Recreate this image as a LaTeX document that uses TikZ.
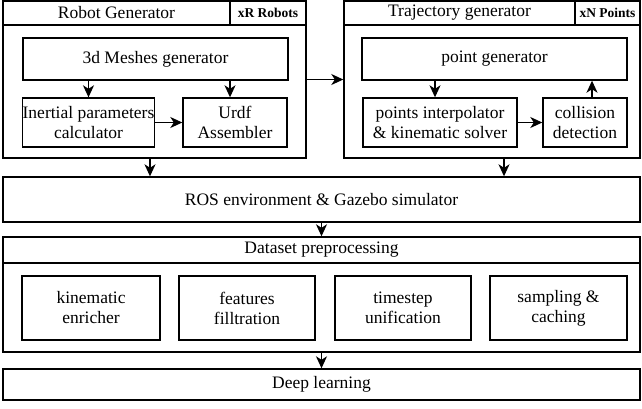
\documentclass[tikz,border=0pt]{standalone}
\usepackage{fontspec}
\setmainfont{Liberation Serif}
\usetikzlibrary{arrows.meta}

\begin{document}
\begin{tikzpicture}[x=1pt, y=-1pt,
    box/.style={draw, line width=1.4pt, inner sep=0pt, align=center,
                font=\rmfamily\fontsize{17.5}{20}\selectfont},
    tag/.style={draw, line width=1.4pt, inner sep=0pt,
                font=\rmfamily\fontsize{13.5}{15}\selectfont\bfseries},
    arrow/.style={-{Stealth[length=12pt, width=11pt, inset=3.5pt]}, line width=1.3pt}
]
\useasboundingbox (0,0) rectangle (642,408);

\node[box, minimum width=303, minimum height=157] (robot) at (154.5,79.5) {};
\node[box, minimum width=227, minimum height=24] (rtitle) at (116.5,13) {Robot Generator};
\node[tag, minimum width=76, minimum height=24] (rtag) at (268,13) {xR Robots};
\node[box, minimum width=265, minimum height=42] (mesh) at (155.5,59) {3d Meshes generator};
\node[box, minimum width=131, minimum height=49] (inertial) at (88.5,122.5) {Inertial parameters\\calculator};
\node[box, minimum width=104, minimum height=49] (urdf) at (235,122.5) {Urdf\\Assembler};

\node[box, minimum width=296, minimum height=157] (traj) at (492,79.5) {};
\node[box, minimum width=231, minimum height=24] (ttitle) at (459.5,13) {Trajectory generator};
\node[tag, minimum width=65, minimum height=24] (ttag) at (607.5,13) {xN Points};
\node[box, minimum width=265, minimum height=42] (pointgen) at (494.5,59) {point generator};
\node[box, minimum width=154, minimum height=49] (interp) at (440,122.5) {points interpolator\\\& kinematic solver};
\node[box, minimum width=84, minimum height=49] (collision) at (585,122.5) {collision\\detection};

\node[box, minimum width=637, minimum height=45] (ros) at (321.5,199.5) {ROS environment \& Gazebo simulator};

\node[box, minimum width=637, minimum height=115] (dataset) at (321.5,294.5) {};
\node[box, minimum width=637, minimum height=26] (dtitle) at (321.5,250) {Dataset preprocessing};
\node[box, minimum width=138, minimum height=64] (enrich) at (91,308) {kinematic\\enricher};
\node[box, minimum width=136, minimum height=64] (filter) at (247,308) {features\\filltration};
\node[box, minimum width=136, minimum height=64] (unify) at (403,308) {timestep\\unification};
\node[box, minimum width=137, minimum height=64] (cache) at (558.5,308) {sampling \&\\caching};

\node[box, minimum width=637, minimum height=31] (deep) at (321.5,384.5) {Deep learning};

\draw[arrow] (inertial.north |- mesh.south) -- (inertial.north);
\draw[arrow] ([xshift=-5]urdf.north |- mesh.south) -- ([xshift=-5]urdf.north);
\draw[arrow] (inertial.east) -- (urdf.west);
\draw[arrow] (robot.east) -- (traj.west);
\draw[arrow] ([xshift=-5]interp.north |- pointgen.south) -- ([xshift=-5]interp.north);
\draw[arrow] (interp.east) -- (collision.west);
\draw[arrow] ([xshift=7]collision.north) -- ([xshift=7]collision.north |- pointgen.south);
\draw[arrow] ([xshift=-4.5]robot.south) -- ([xshift=-4.5]robot.south |- ros.north);
\draw[arrow] ([xshift=12]traj.south) -- ([xshift=12]traj.south |- ros.north);
\draw[arrow] (ros.south) -- (dataset.north);
\draw[arrow] (dataset.south) -- (deep.north);
\end{tikzpicture}
\end{document}
